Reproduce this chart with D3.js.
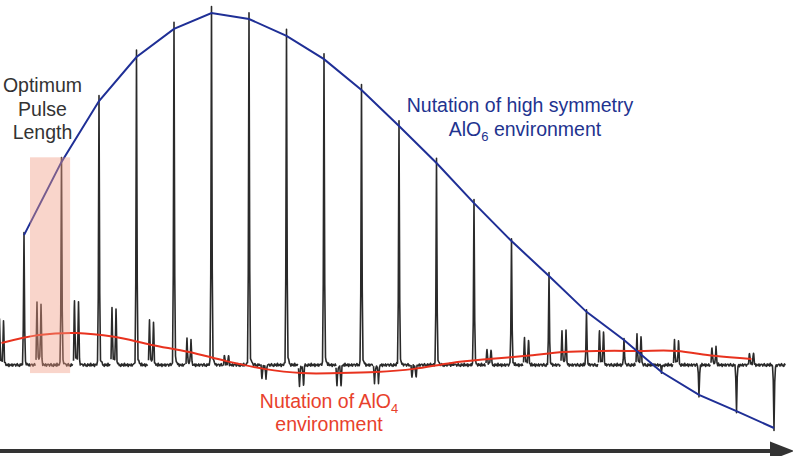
<!DOCTYPE html>
<html>
<head>
<meta charset="utf-8">
<script src="https://cdn.jsdelivr.net/npm/d3@7"></script>
<style>
  html, body { margin: 0; padding: 0; background: #fff; }
  svg { display: block; font-family: "Liberation Sans", Arial, sans-serif; }
</style>
</head>
<body>
<div id="chart"></div>
<script>
// one spectrum per nutation pulse length, 21 spectra left to right
const specIndex = d3.range(21);
// AlO6 (tall) peak intensity, % of max
const alo6Peak = [36.9, 57.7, 75.0, 87.5, 95.5, 100, 98.3, 93.5, 86.9, 78.1, 67.9,
  57.4, 46.0, 35.2, 25.3, 15.1, 7.1, -2.0, -8.5, -13.1, -17.9];
// AlO4 doublet intensity
const alo4Peak = [12.2, 16.5, 17.3, 15.1, 11.9, 6.8, 2.6, -3.7, -5.7, -5.7, -4.8,
  -3.4, 0.3, 4.3, 7.1, 9.1, 9.4, 8.0, 6.5, 4.8, 3.4];
// red trend line drawn through the AlO4 signal
const alo4Trend = [6.25, 8.5, 9.1, 8.0, 5.7, 3.7, 1.1, -1.1, -2.3, -2.3, -2.0,
  -1.1, 0.6, 1.7, 2.6, 3.7, 4.0, 4.0, 4.0, 2.6, 1.7];
// baseline noise texture (repeats along each spectrum)
const noise = [0.2, -0.3, 0.1, 0.4, -0.2, 0, -0.4, 0.3, -0.1, 0.2, -0.3, 0.5,
  -0.2, 0.1, -0.1, 0.3, -0.4, 0.2, 0, -0.2, 0.3, -0.3, 0.1, 0.2];
// spectrum span highlighted as the optimum pulse length
const optimumSpan = [0.8, 1.87];
const optimumLevel = [-2.3, 59];

const width = 793, height = 456;

// position of each peak inside its spectrum slot
const alo4Offset = 0.04, alo4Split = 0.107, alo6Offset = 0.64;

const x = d3.scaleLinear().domain([0, 21]).range([0, 787.5]);
const y = d3.scaleLinear().domain([0, 100]).range([365, 13]);

const svg = d3.select("#chart")
  .append("svg")
  .attr("width", width)
  .attr("height", height)
  .attr("viewBox", [0, 0, width, height]);

// narrow gaussian line shape
function gau(u, c, h, s) {
  return h * Math.exp(-((u - c) * (u - c)) / (2 * s * s));
}

function spectrum(i) {
  const c4 = i + alo4Offset, c6 = i + alo6Offset;
  const a = c4 - alo4Split / 2, b = c4 + alo4Split / 2;
  let us = d3.range(i - 0.04, i + 0.96, 0.02);
  us = us.concat([a, b, c6]).sort((p, q) => p - q);
  return us.map((u, k) => {
    let v = noise[(k + i * 5) % noise.length];
    v += gau(u, a, alo4Peak[i], 0.011);
    v += gau(u, b, alo4Peak[i] * 0.97, 0.011);
    v += gau(u, c4, alo4Peak[i] * 0.12, 0.05);
    v += gau(u, c6, alo6Peak[i], 0.012);
    v += gau(u, c6 + 0.02, alo6Peak[i] * 0.02, 0.04);
    return [u, v];
  });
}

const line = d3.line().x((d) => x(d[0])).y((d) => y(d[1]));

// the stacked spectra
svg.append("g")
  .selectAll()
  .data(specIndex)
  .join("path")
  .attr("d", (i) => line(spectrum(i)))
  .attr("fill", "none")
  .attr("stroke", "#2a2a2a")
  .attr("stroke-width", 1.6)
  .attr("stroke-linejoin", "round");

// AlO4 trend
svg.append("path")
  .datum(specIndex)
  .attr("d", d3.line()
    .curve(d3.curveCatmullRom)
    .x((i) => x(i + alo4Offset))
    .y((i) => y(alo4Trend[i])))
  .attr("fill", "none")
  .attr("stroke", "#e8321e")
  .attr("stroke-width", 2);

// AlO6 envelope
svg.append("path")
  .datum(specIndex)
  .attr("d", d3.line()
    .x((i) => x(i + alo6Offset))
    .y((i) => y(alo6Peak[i])))
  .attr("fill", "none")
  .attr("stroke", "#1f2f96")
  .attr("stroke-width", 2);

// optimum pulse length box
svg.append("rect")
  .attr("x", x(optimumSpan[0]))
  .attr("width", x(optimumSpan[1]) - x(optimumSpan[0]))
  .attr("y", y(optimumLevel[1]))
  .attr("height", y(optimumLevel[0]) - y(optimumLevel[1]))
  .attr("fill", "#f19c84")
  .attr("opacity", 0.42);

// labels
const lab = svg.append("g").attr("font-size", 19.5).attr("text-anchor", "middle");

lab.append("text")
  .attr("fill", "#333")
  .selectAll()
  .data(["Optimum", "Pulse", "Length"])
  .join("tspan")
  .attr("x", 42.5)
  .attr("y", (d, k) => 92 + k * 23.5)
  .text((d) => d);

const blue = lab.append("g").attr("fill", "#22338f");
blue.append("text").attr("x", 520).attr("y", 112).text("Nutation of high symmetry");
const b2 = blue.append("text").attr("x", 525).attr("y", 135.5);
b2.append("tspan").text("AlO");
b2.append("tspan").attr("font-size", 13).attr("dy", 5).text("6");
b2.append("tspan").attr("dy", -5).text(" environment");

const red = lab.append("g").attr("fill", "#e8412c");
const r1 = red.append("text").attr("x", 329).attr("y", 408);
r1.append("tspan").text("Nutation of AlO");
r1.append("tspan").attr("font-size", 13).attr("dy", 5).text("4");
red.append("text").attr("x", 329).attr("y", 431).text("environment");

// time axis arrow
svg.append("line")
  .attr("x1", 0).attr("x2", 776)
  .attr("y1", 451).attr("y2", 451)
  .attr("stroke", "#333")
  .attr("stroke-width", 4);
svg.append("path")
  .attr("d", "M770,441.5L794,451L770,460.5Z")
  .attr("fill", "#333");
</script>
</body>
</html>
